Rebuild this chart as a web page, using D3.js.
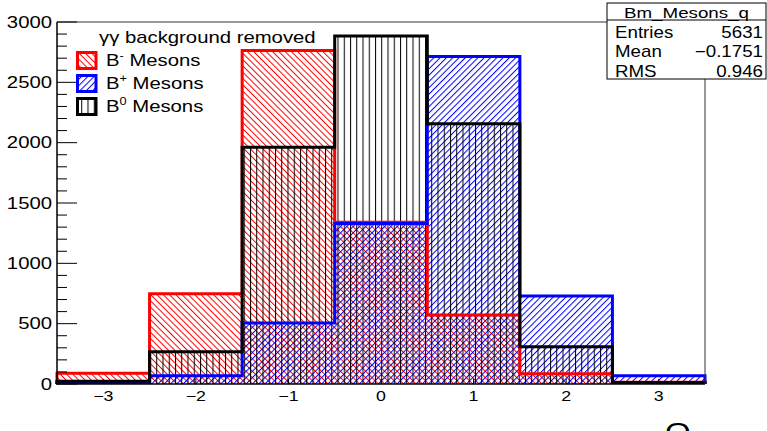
<!DOCTYPE html>
<html>
<head>
<meta charset="utf-8">
<script src="https://cdn.jsdelivr.net/npm/d3@7"></script>
<style>
html,body{margin:0;padding:0;background:#fff;}
svg{display:block;}
text{font-family:"Liberation Sans",Arial,Helvetica,sans-serif;fill:#000;}
</style>
</head>
<body>
<svg id="chart" width="767" height="431"></svg>
<script>
// ---- data ----
const binEdges = [-3.5, -2.5, -1.5, -0.5, 0.5, 1.5, 2.5, 3.5];
const bMinus = [90, 748, 2763, 1340, 572, 85, 15];
const bPlus = [12, 68, 505, 1330, 2715, 730, 68];
const bZero = [22, 268, 1963, 2884, 2156, 308, 12];
const xTicks = [-3, -2, -1, 0, 1, 2, 3];
const yTicks = [0, 500, 1000, 1500, 2000, 2500, 3000];
const legendTitle = "γγ background removed";
const statsTitle = "Bm_Mesons_q";
const statsLabels = ["Entries", "Mean", "RMS"];
const statsValues = ["5631", "\u22120.1751", "0.946"];
const xTitle = "Q";

const svg = d3.select("#chart");
const L = 57, R = 705, T = 22, B = 384;
const SX = 1.27;

const x = d3.scaleLinear().domain([-3.5, 3.5]).range([L, R]);
const y = d3.scaleLinear().domain([0, 3000]).range([B, T]);

// patterns
const defs = svg.append("defs");
function hatch(id, color, angle, spacing) {
  const p = defs.append("pattern").attr("id", id)
    .attr("patternUnits", "userSpaceOnUse")
    .attr("width", spacing).attr("height", 10)
    .attr("patternTransform", `rotate(${angle})`);
  p.append("line").attr("x1", 0.5).attr("y1", -1).attr("x2", 0.5).attr("y2", 11)
    .attr("stroke", color).attr("stroke-width", 1);
}
hatch("hRed", "#ff0000", -45, 4.45);
hatch("hBlue", "#0000ff", 45, 4.45);
hatch("hBlack", "#000000", 0, 6.25);

function stepPoints(vals) {
  const pts = [[x(binEdges[0]), y(0)]];
  vals.forEach((v, i) => {
    pts.push([x(binEdges[i]), y(v)]);
    pts.push([x(binEdges[i + 1]), y(v)]);
  });
  pts.push([x(binEdges[binEdges.length - 1]), y(0)]);
  return pts;
}
const line = d3.line();
const series = [
  {vals: bMinus, color: "#ff0000", pat: "hRed"},
  {vals: bPlus, color: "#0000ff", pat: "hBlue"},
  {vals: bZero, color: "#000000", pat: "hBlack"}
];
series.forEach(s => {
  const pts = stepPoints(s.vals);
  svg.append("path").attr("d", line(pts) + "Z").attr("fill", `url(#${s.pat})`).attr("stroke", "none");
});
series.forEach(s => {
  const pts = stepPoints(s.vals);
  svg.append("path").attr("d", line(pts)).attr("fill", "none")
    .attr("stroke", s.color).attr("stroke-width", 3).attr("stroke-linejoin", "miter");
});

// frame
svg.append("line").attr("x1", L).attr("x2", R).attr("y1", T).attr("y2", T).attr("stroke", "#333").attr("stroke-width", 1);
svg.append("line").attr("x1", R).attr("x2", R).attr("y1", T).attr("y2", B).attr("stroke", "#333").attr("stroke-width", 1);

// y axis
const yAxisG = svg.append("g");
yAxisG.append("line").attr("x1", L).attr("x2", L).attr("y1", T).attr("y2", B + 1).attr("stroke", "#000").attr("stroke-width", 1.5);
d3.range(0, 3001, 100).forEach(v => {
  const major = v % 500 === 0;
  yAxisG.append("line").attr("x1", L).attr("x2", L + (major ? 20 : 10))
    .attr("y1", y(v)).attr("y2", y(v)).attr("stroke", "#000").attr("stroke-width", 1);
});
yTicks.forEach(v => {
  yAxisG.append("text").attr("transform", `translate(52,${y(v) + 5.8}) scale(${SX},1)`)
    .attr("text-anchor", "end").attr("font-size", 16).text(v);
});

// x axis
const xAxisG = svg.append("g");
xAxisG.append("line").attr("x1", L).attr("x2", R).attr("y1", B).attr("y2", B).attr("stroke", "#000").attr("stroke-width", 1.5);
xTicks.forEach(v => {
  xAxisG.append("line").attr("x1", x(v)).attr("x2", x(v)).attr("y1", B).attr("y2", B - 5).attr("stroke", "#000");
  xAxisG.append("text").attr("transform", `translate(${x(v)},${B + 17}) scale(${SX},1)`)
    .attr("text-anchor", "middle").attr("font-size", 14).text(v < 0 ? "\u2212" + Math.abs(v) : v);
});
svg.append("text").attr("transform", `translate(665,441) scale(${SX},1)`).attr("font-size", 26).text(xTitle);

// legend
svg.append("text").attr("transform", `translate(99,43) scale(${SX},1)`).attr("font-size", 16).text(legendTitle);
const legItems = [
  {sup: "-", color: "#ff0000", pat: "hRed"},
  {sup: "+", color: "#0000ff", pat: "hBlue"},
  {sup: "0", color: "#000000", pat: "hBlack"}
];
legItems.forEach((d, i) => {
  const cy = 60.5 + i * 23;
  svg.append("rect").attr("x", 77.5).attr("y", cy - 8).attr("width", 18.5).attr("height", 16)
    .attr("fill", `url(#${d.pat})`).attr("stroke", d.color).attr("stroke-width", 3);
  const t = svg.append("text").attr("transform", `translate(106,${cy + 5.5}) scale(${SX},1)`).attr("font-size", 16);
  t.append("tspan").text("B");
  t.append("tspan").attr("font-size", 10).attr("dy", -7).text(d.sup);
  t.append("tspan").attr("dy", 7).text(" Mesons");
});

// stats box
const sb = {x0: 607, x1: 766, y0: 3, ys: 20, y1: 79};
svg.append("rect").attr("x", sb.x0).attr("y", sb.y0).attr("width", sb.x1 - sb.x0).attr("height", sb.y1 - sb.y0)
  .attr("fill", "#fff").attr("stroke", "#000").attr("stroke-width", 1);
svg.append("line").attr("x1", sb.x0).attr("x2", sb.x1).attr("y1", sb.ys).attr("y2", sb.ys).attr("stroke", "#000");
svg.append("text").attr("transform", `translate(${(sb.x0 + sb.x1) / 2},17.5) scale(1.25,1)`)
  .attr("text-anchor", "middle").attr("font-size", 15).text(statsTitle);
statsLabels.forEach((lab, i) => {
  const by = 37.5 + i * 19.5;
  svg.append("text").attr("transform", `translate(615,${by}) scale(1.17,1)`).attr("font-size", 16).text(lab);
  svg.append("text").attr("transform", `translate(763,${by}) scale(1.17,1)`).attr("text-anchor", "end").attr("font-size", 16).text(statsValues[i]);
});
</script>
</body>
</html>
